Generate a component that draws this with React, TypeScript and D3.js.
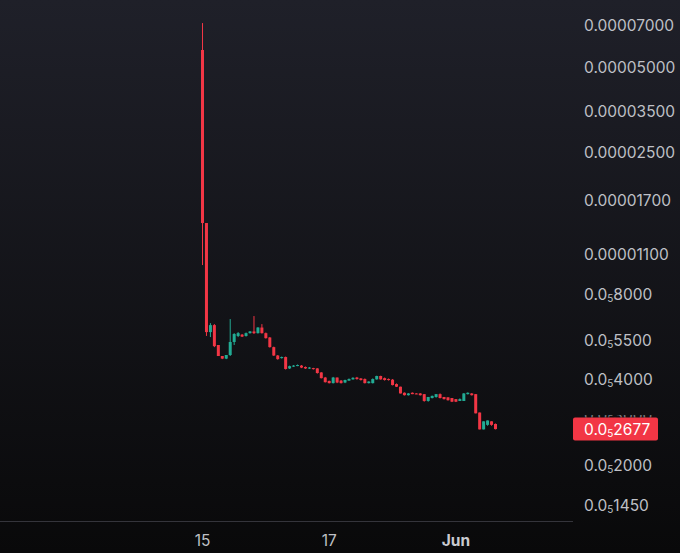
import * as d3 from "d3";
import { useEffect, useRef } from "react";

// prices in units of 1e-6, one entry per 90-minute candle
const UNIT = 1e-6;

const opens = [
  57.2, 14.14, 5.86, 6.2, 5.28, 4.83, 4.73, 4.87, 5.41, 5.68,
  5.74, 5.68, 5.81, 5.89, 5.81, 6.08, 5.81, 5.61, 5.19, 4.85,
  4.75, 4.79, 4.37, 4.44, 4.47, 4.47, 4.42, 4.37, 4.38, 4.37,
  4.23, 4.06, 3.95, 3.88, 4.06, 3.96, 3.9, 3.96, 4.0, 4.06,
  4.03, 4.01, 3.88, 3.88, 4.0, 4.11, 4.04, 4.01, 3.99, 3.85,
  3.77, 3.59, 3.52, 3.59, 3.57, 3.57, 3.55, 3.36, 3.44, 3.47,
  3.55, 3.47, 3.46, 3.44, 3.41, 3.36, 3.36, 3.55, 3.57, 3.55,
  3.06, 2.67, 2.77, 2.85, 2.79,
];
const highs = [
  71.1, 14.14, 6.3, 6.25, 5.28, 4.83, 4.87, 6.51, 5.81, 5.86,
  5.77, 5.84, 5.91, 6.67, 6.1, 6.25, 5.84, 5.63, 5.21, 4.87,
  4.81, 4.81, 4.47, 4.49, 4.51, 4.49, 4.44, 4.42, 4.39, 4.38,
  4.24, 4.08, 3.96, 4.08, 4.06, 3.98, 3.99, 4.03, 4.07, 4.08,
  4.04, 4.03, 3.94, 4.03, 4.12, 4.12, 4.06, 4.03, 4.01, 3.87,
  3.77, 3.6, 3.58, 3.6, 3.58, 3.58, 3.55, 3.47, 3.51, 3.55,
  3.57, 3.47, 3.46, 3.44, 3.41, 3.43, 3.58, 3.6, 3.58, 3.55,
  3.06, 2.85, 2.87, 2.85, 2.8,
];
const lows = [
  10.07, 5.68, 5.63, 5.19, 4.83, 4.71, 4.71, 4.83, 5.28, 5.63,
  5.63, 5.65, 5.79, 5.77, 5.79, 5.79, 5.56, 5.17, 4.83, 4.69,
  4.73, 4.33, 4.35, 4.42, 4.45, 4.38, 4.35, 4.35, 4.33, 4.19,
  4.03, 3.9, 3.87, 3.87, 3.88, 3.87, 3.88, 3.95, 3.99, 3.99,
  3.96, 3.87, 3.87, 3.87, 3.99, 3.99, 3.96, 3.96, 3.81, 3.76,
  3.57, 3.51, 3.51, 3.55, 3.55, 3.51, 3.34, 3.34, 3.43, 3.45,
  3.43, 3.4, 3.37, 3.33, 3.33, 3.36, 3.36, 3.54, 3.51, 3.04,
  2.67, 2.67, 2.75, 2.75, 2.67,
];
const closes = [
  14.14, 5.86, 6.2, 5.23, 4.83, 4.73, 4.87, 5.41, 5.77, 5.81,
  5.65, 5.81, 5.89, 5.81, 6.08, 5.81, 5.58, 5.19, 4.85, 4.71,
  4.79, 4.35, 4.45, 4.47, 4.49, 4.4, 4.37, 4.4, 4.35, 4.21,
  4.04, 3.91, 3.88, 4.06, 3.9, 3.88, 3.98, 4.01, 4.05, 4.01,
  3.98, 3.88, 3.93, 4.01, 4.11, 4.0, 3.98, 3.98, 3.82, 3.77,
  3.57, 3.52, 3.57, 3.55, 3.55, 3.52, 3.36, 3.47, 3.5, 3.55,
  3.44, 3.41, 3.38, 3.34, 3.34, 3.41, 3.57, 3.59, 3.52, 3.04,
  2.67, 2.85, 2.87, 2.77, 2.677,
];

const priceTicks = [70, 50, 35, 25, 17, 11, 8, 5.5, 4, 3, 2, 1.45];
const timeTickIndex = [0, 32, 64];
const timeTickLabels = ["15", "17", "Jun"];
const monthStart = ["Jun"];

const UP = "#22ab94";
const DOWN = "#f23645";
const TEXT = "#bfc0c6";
const FONT = "Inter, 'Noto Sans', sans-serif";

// 0.00007000 or 0.0₅8000 (subscript = count of extra zeros)
function priceParts(v: number): { head: string; sub?: string; tail?: string } {
  if (v >= 1e-5) return { head: v.toFixed(8) };
  const digits = Math.round(v / 1e-9).toString();
  return { head: "0.0", sub: "5", tail: digits };
}

export default function App() {
  const ref = useRef<SVGSVGElement>(null);

  useEffect(() => {
    if (!ref.current) return;
    const width = 680;
    const height = 553;
    const axisY = 521;
    const plotRight = 573;
    const labelX = 584;

    const svg = d3.select(ref.current);
    svg.selectAll("*").remove();

    const candles = opens.map((o, i) => ({
      i,
      o: o * UNIT,
      h: highs[i] * UNIT,
      l: lows[i] * UNIT,
      c: closes[i] * UNIT,
    }));

    const x = d3.scaleLinear().domain([0, 74]).range([202.5, 495.5]);
    const y = d3
      .scaleLog()
      .domain([1.45 * UNIT, 70 * UNIT])
      .range([505, 25]);

    // Background gradient
    const defs = svg.append("defs");
    const grad = defs
      .append("linearGradient")
      .attr("id", "bg-grad")
      .attr("x1", 0)
      .attr("y1", 0)
      .attr("x2", 0)
      .attr("y2", 1);
    grad.append("stop").attr("offset", "0%").attr("stop-color", "#1f2029");
    grad.append("stop").attr("offset", "100%").attr("stop-color", "#09090a");

    svg
      .append("rect")
      .attr("width", width)
      .attr("height", height)
      .attr("fill", "url(#bg-grad)");

    // time axis line
    svg
      .append("line")
      .attr("x1", 0)
      .attr("x2", plotRight)
      .attr("y1", axisY + 0.5)
      .attr("y2", axisY + 0.5)
      .attr("stroke", "#34343b")
      .attr("stroke-width", 1);

    // Candles
    const g = svg.append("g");
    const bodyW = 3;
    candles.forEach((d) => {
      const color = d.c >= d.o ? UP : DOWN;
      const cx = x(d.i);
      g.append("line")
        .attr("x1", cx)
        .attr("x2", cx)
        .attr("y1", y(d.h))
        .attr("y2", y(d.l))
        .attr("stroke", color)
        .attr("stroke-width", 1);
      const top = Math.min(y(d.o), y(d.c));
      const bh = Math.max(1, Math.abs(y(d.o) - y(d.c)));
      g.append("rect")
        .attr("x", cx - bodyW / 2)
        .attr("y", top)
        .attr("width", bodyW)
        .attr("height", bh)
        .attr("fill", color);
    });

    const writePrice = (
      sel: d3.Selection<SVGTextElement, unknown, null, undefined>,
      v: number,
    ) => {
      const p = priceParts(v);
      sel.append("tspan").text(p.head);
      if (p.sub) {
        sel.append("tspan").attr("font-size", 10).attr("dy", 4).text(p.sub);
        sel.append("tspan").attr("dy", -4).text(p.tail!);
      }
    };

    // price axis labels
    const lastClose = candles[candles.length - 1].c;
    const tagY = y(lastClose);
    const tagTop = tagY - 11.5;
    // the label hidden by the price tag only peeks out by a couple of pixels
    defs
      .append("clipPath")
      .attr("id", "under-tag")
      .append("rect")
      .attr("x", plotRight)
      .attr("y", tagTop - 2.5)
      .attr("width", width - plotRight)
      .attr("height", 2.5);

    priceTicks.forEach((t) => {
      const v = t * UNIT;
      const text = svg
        .append("text")
        .attr("x", labelX)
        .attr("y", y(v))
        .attr("dominant-baseline", "central")
        .attr("font-family", FONT)
        .attr("font-size", 15.5)
        .attr("fill", TEXT);
      if (Math.abs(y(v) - tagY) < 22) {
        text.attr("clip-path", "url(#under-tag)").attr("opacity", 0.6);
      }
      writePrice(text, v);
    });

    // last price tag
    svg
      .append("rect")
      .attr("x", plotRight)
      .attr("y", tagTop)
      .attr("width", 85)
      .attr("height", 23)
      .attr("rx", 2)
      .attr("fill", DOWN);
    const tagText = svg
      .append("text")
      .attr("x", labelX)
      .attr("y", tagY)
      .attr("dominant-baseline", "central")
      .attr("font-family", FONT)
      .attr("font-size", 15.5)
      .attr("fill", "#ffffff");
    writePrice(tagText, lastClose);

    // time axis labels
    timeTickIndex.forEach((idx, k) => {
      const label = timeTickLabels[k];
      svg
        .append("text")
        .attr("x", x(idx))
        .attr("y", 540)
        .attr("text-anchor", "middle")
        .attr("dominant-baseline", "central")
        .attr("font-family", FONT)
        .attr("font-size", 15.5)
        .attr("font-weight", monthStart.includes(label) ? 700 : 400)
        .attr("fill", monthStart.includes(label) ? "#c9cad0" : TEXT)
        .text(label);
    });
  }, []);

  return (
    <svg
      ref={ref}
      width={680}
      height={553}
      style={{ position: "absolute", left: 0, top: 0, display: "block" }}
    />
  );
}
